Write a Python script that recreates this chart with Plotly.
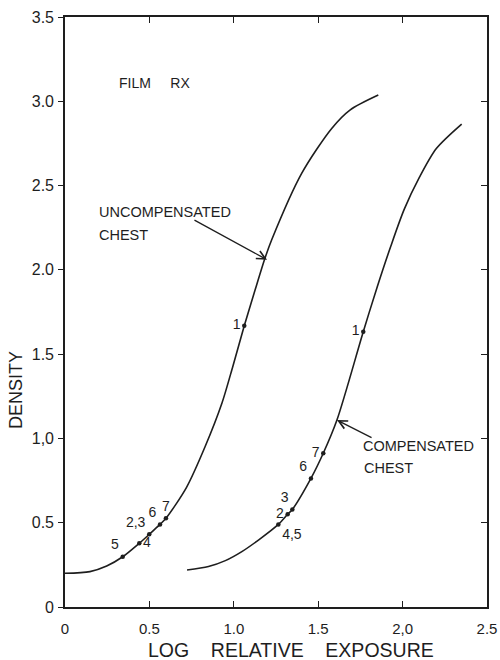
import plotly.graph_objects as go

# ---- data ----
uncomp_x = [0.0, 0.148, 0.247, 0.342, 0.44, 0.499, 0.563, 0.598, 0.72, 0.829, 0.93, 0.995,
            1.062, 1.126, 1.185, 1.224, 1.402, 1.58, 1.688, 1.856]
uncomp_y = [0.20, 0.21, 0.243, 0.298, 0.378, 0.431, 0.49, 0.526, 0.71, 0.949, 1.21, 1.43,
            1.668, 1.88, 2.07, 2.177, 2.572, 2.839, 2.948, 3.037]

comp_x = [0.723, 0.85, 0.95, 1.05, 1.15, 1.264, 1.319, 1.347, 1.457, 1.53, 1.611, 1.767,
          1.85, 1.93, 2.01, 2.10, 2.20, 2.35]
comp_y = [0.219, 0.24, 0.275, 0.33, 0.40, 0.49, 0.55, 0.579, 0.763, 0.912, 1.109, 1.633,
          1.90, 2.14, 2.36, 2.55, 2.72, 2.865]

uncomp_pt_x = [0.342, 0.44, 0.499, 0.563, 0.598, 1.062]
uncomp_pt_y = [0.298, 0.378, 0.431, 0.49, 0.526, 1.668]
uncomp_pt_lbl = ["5", "4", "2,3", "6", "7", "1"]
uncomp_pt_pos = ["top left", "middle right", "top left", "top left", "top center", "middle left"]

comp_pt_x = [1.264, 1.319, 1.347, 1.457, 1.53, 1.767]
comp_pt_y = [0.49, 0.55, 0.579, 0.763, 0.912, 1.633]
comp_pt_lbl = ["4,5", "2", "3", "6", "7", "1"]
comp_pt_pos = ["bottom right", "middle left", "top left", "top left", "middle left", "middle left"]

x_tickvals = [0, 0.5, 1.0, 1.5, 2.0, 2.5]
x_ticktext = ["0", "0.5", "1.0", "1.5", "2,0", "2.5"]
y_tickvals = [0, 0.5, 1.0, 1.5, 2.0, 2.5, 3.0, 3.5]
y_ticktext = ["0", "0.5", "1,0", "1.5", "2.0", "2.5", "3.0", "3.5"]

INK = "#1e1e1e"
FONT = "Liberation Sans"

fig = go.Figure()

fig.add_trace(go.Scatter(x=uncomp_x, y=uncomp_y, mode="lines",
                         line=dict(color=INK, width=1.6, shape="spline", smoothing=0.8),
                         hoverinfo="skip", showlegend=False))
fig.add_trace(go.Scatter(x=comp_x, y=comp_y, mode="lines",
                         line=dict(color=INK, width=1.6, shape="spline", smoothing=0.8),
                         hoverinfo="skip", showlegend=False))

fig.add_trace(go.Scatter(x=uncomp_pt_x, y=uncomp_pt_y, mode="markers+text",
                         marker=dict(color=INK, size=4.5),
                         text=uncomp_pt_lbl, textposition=uncomp_pt_pos,
                         textfont=dict(family=FONT, size=14, color=INK),
                         showlegend=False))
fig.add_trace(go.Scatter(x=comp_pt_x, y=comp_pt_y, mode="markers+text",
                         marker=dict(color=INK, size=4.5),
                         text=comp_pt_lbl, textposition=comp_pt_pos,
                         textfont=dict(family=FONT, size=14, color=INK),
                         showlegend=False))

# empty trace so that the mirrored top/right axes are drawn
fig.add_trace(go.Scatter(x=[None], y=[None], xaxis="x2", yaxis="y2",
                         mode="markers", showlegend=False, hoverinfo="skip"))

axis_common = dict(showgrid=False, zeroline=False, showline=True, automargin=False,
                   linecolor=INK, linewidth=1.6, tickcolor=INK, tickwidth=1.4)

fig.update_layout(
    width=500, height=660,
    margin=dict(l=65, r=13, t=17, b=53),
    paper_bgcolor="white", plot_bgcolor="white",
    font=dict(family=FONT, color=INK),
    xaxis=dict(range=[0, 2.5], tickmode="array", tickvals=x_tickvals, ticktext=x_ticktext,
               ticks="inside", ticklen=6, tickfont=dict(size=15, family=FONT, color=INK),
               ticklabelstandoff=7, **axis_common),
    yaxis=dict(range=[0, 3.5], tickmode="array", tickvals=y_tickvals, ticktext=y_ticktext,
               ticks="outside", ticklen=5, tickfont=dict(size=16, family=FONT, color=INK),
               ticklabelstandoff=1, **axis_common),
    xaxis2=dict(range=[0, 2.5], overlaying="x", side="top", anchor="y",
                tickmode="array", tickvals=[0.5, 1.0, 1.5, 2.0], showticklabels=False,
                ticks="inside", ticklen=6, **axis_common),
    yaxis2=dict(range=[0, 3.5], overlaying="y", side="right", anchor="x",
                tickmode="array", tickvals=[0.5, 1.0, 1.5, 2.0, 2.5, 3.0], showticklabels=False,
                ticks="inside", ticklen=6, **axis_common),
)

ann = []
# axis titles
ann.append(dict(text="LOG    RELATIVE    EXPOSURE", x=1.339, y=-0.073, xref="x", yref="paper",
                showarrow=False, font=dict(size=19.5, family=FONT, color=INK),
                xanchor="center", yanchor="middle"))
ann.append(dict(text="DENSITY", x=-0.116, y=1.287, xref="paper", yref="y",
                showarrow=False, textangle=-90, font=dict(size=18, family=FONT, color=INK),
                xanchor="center", yanchor="middle"))
# labels
lab_font = dict(size=14.5, family=FONT, color=INK)
ann.append(dict(text="FILM     RX", x=0.308, y=3.108, xref="x", yref="y", showarrow=False,
                font=dict(size=14, family=FONT, color=INK), xanchor="left", yanchor="middle"))
ann.append(dict(text="UNCOMPENSATED", x=0.19, y=2.343, xref="x", yref="y", showarrow=False,
                font=lab_font, xanchor="left", yanchor="middle"))
ann.append(dict(text="CHEST", x=0.19, y=2.206, xref="x", yref="y", showarrow=False,
                font=lab_font, xanchor="left", yanchor="middle"))
ann.append(dict(text="COMPENSATED", x=1.754, y=0.955, xref="x", yref="y", showarrow=False,
                font=lab_font, xanchor="left", yanchor="middle"))
ann.append(dict(text="CHEST", x=1.76, y=0.824, xref="x", yref="y", showarrow=False,
                font=lab_font, xanchor="left", yanchor="middle"))
# arrows
ann.append(dict(text="", x=1.197, y=2.06, ax=0.758, ay=2.30, xref="x", yref="y",
                axref="x", ayref="y", showarrow=True, arrowhead=5, arrowsize=1.3,
                arrowwidth=1.3, arrowcolor=INK))
ann.append(dict(text="", x=1.611, y=1.109, ax=1.825, ay=1.0, xref="x", yref="y",
                axref="x", ayref="y", showarrow=True, arrowhead=5, arrowsize=1.3,
                arrowwidth=1.3, arrowcolor=INK))
fig.update_layout(annotations=ann)

fig.write_html("out.html", config={"displayModeBar": False},
               post_script="document.body.style.margin='0';document.body.style.padding='0';")
